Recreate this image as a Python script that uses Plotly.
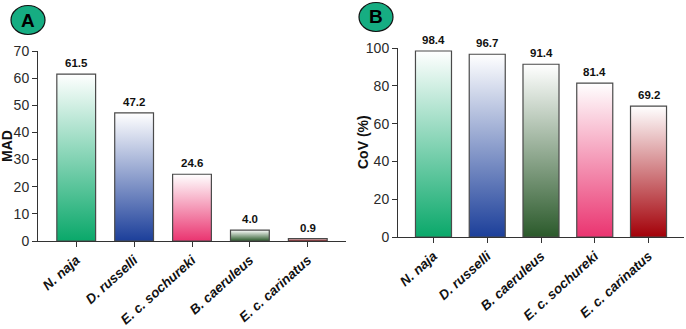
import plotly.graph_objects as go

# ---------------- data ----------------
mad_species = ["N. naja", "D. russelli", "E. c. sochureki", "B. caeruleus", "E. c. carinatus"]
mad_values = [61.5, 47.2, 24.6, 4.0, 0.9]
mad_colors = ["#0aa86a", "#1c3f9a", "#ea3470", "#2b5a2b", "#a30008"]
mad_ticks = [0, 10, 20, 30, 40, 50, 60, 70]

cov_species = ["N. naja", "D. russelli", "B. caeruleus", "E. c. sochureki", "E. c. carinatus"]
cov_values = [98.4, 96.7, 91.4, 81.4, 69.2]
cov_colors = ["#0aa86a", "#1c3f9a", "#2b5a2b", "#ea3470", "#a30008"]
cov_ticks = [0, 20, 40, 60, 80, 100]

panel_labels = ["A", "B"]
axis_titles = ["MAD", "CoV (%)"]

# ---------------- layout constants ----------------
W, H = 686, 329
BAR_W = 0.67
FONT = "Liberation Sans, Arial, sans-serif"
AXIS_COLOR = "#333333"
OUTLINE = "#4a4a4a"

fig = go.Figure()


def add_panel(species, values, colors, xa, ya):
    for i, (v, c) in enumerate(zip(values, colors)):
        x0, x1 = i - BAR_W / 2, i + BAR_W / 2
        fig.add_trace(go.Scatter(
            x=[x0, x1, x1, x0, x0], y=[0, 0, v, v, 0],
            mode="lines", fill="toself",
            fillgradient=dict(type="vertical",
                              colorscale=[[0, c], [1, "#ffffff"]]),
            line=dict(color=OUTLINE, width=1.2),
            xaxis=xa, yaxis=ya, showlegend=False, hoverinfo="skip",
        ))
        fig.add_annotation(
            x=i, y=v, xref=xa, yref=ya, text=f"<b>{v:.1f}</b>",
            showarrow=False, xanchor="center", yanchor="bottom", yshift=3,
            font=dict(family=FONT, size=11.5, color="#111111"),
        )


add_panel(mad_species, mad_values, mad_colors, "x", "y")
add_panel(cov_species, cov_values, cov_colors, "x2", "y2")

tickfont = dict(family=FONT, size=14, color="#2a2a2a")
xtickfont = dict(family=FONT, size=13.5, color="#111111")


def xaxis_cfg(domain, species):
    return dict(
        domain=domain, range=[-0.66, len(species) - 1 + 0.66],
        tickmode="array", tickvals=list(range(len(species))),
        ticktext=[f"<b><i>{s}</i></b>" for s in species],
        tickangle=-42, tickfont=xtickfont,
        ticks="outside", ticklen=5, tickcolor=AXIS_COLOR, tickwidth=1,
        showline=True, linecolor=AXIS_COLOR, linewidth=1,
        showgrid=False, zeroline=False, automargin=False, fixedrange=True,
    )


def yaxis_cfg(domain, rng, ticks, anchor):
    return dict(
        domain=domain, range=rng, anchor=anchor,
        tickmode="array", tickvals=ticks, tickfont=tickfont,
        ticks="outside", ticklen=5, tickcolor=AXIS_COLOR, tickwidth=1,
        showline=True, linecolor=AXIS_COLOR, linewidth=1,
        showgrid=False, zeroline=False, automargin=False,
    )


fig.update_layout(
    width=W, height=H,
    margin=dict(l=0, r=0, t=0, b=0),
    paper_bgcolor="white", plot_bgcolor="white",
    xaxis=xaxis_cfg([38 / W, 346 / W], mad_species),
    yaxis=yaxis_cfg([(H - 241) / H, (H - 51) / H], [0, 70], mad_ticks, "x"),
    xaxis2=dict(xaxis_cfg([398 / W, 684 / W], cov_species), anchor="y2"),
    yaxis2=yaxis_cfg([(H - 237) / H, (H - 48) / H], [0, 100], cov_ticks, "x2"),
    showlegend=False,
)

# axis titles
for t, (tx, ty) in zip(axis_titles, [(7, 146), (363, 142)]):
    fig.add_annotation(text=f"<b>{t}</b>", xref="paper", yref="paper",
                       x=tx / W, y=1 - ty / H, showarrow=False, textangle=-90,
                       font=dict(family=FONT, size=14, color="#111111"),
                       xanchor="center", yanchor="middle")

# panel badges
for lab, (cx, cy) in zip(panel_labels, [(28, 20), (376, 17)]):
    fig.add_shape(type="circle", xref="paper", yref="paper",
                  xsizemode="pixel", ysizemode="pixel",
                  xanchor=cx / W, yanchor=1 - cy / H,
                  x0=-17, x1=17, y0=-14.5, y1=14.5,
                  fillcolor="#16ad82", line=dict(color="#111111", width=1.2))
    fig.add_annotation(text=f"<b>{lab}</b>", xref="paper", yref="paper",
                       x=cx / W, y=1 - cy / H, showarrow=False,
                       font=dict(family=FONT, size=19, color="#000000"),
                       xanchor="center", yanchor="middle")

fig.write_html("out.html")
